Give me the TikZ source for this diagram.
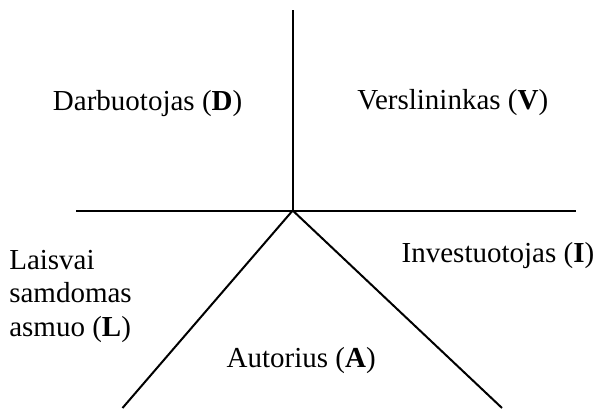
\documentclass[tikz,border=0pt]{standalone}
\usepackage{fontspec}
\setmainfont{Liberation Serif}
\begin{document}
\begin{tikzpicture}[x=0.5pt,y=-0.5pt,
  axis/.style={line width=1pt,black},
  label/.style={anchor=base west,inner sep=0pt,outer sep=0pt,
    font=\fontsize{14.5}{16.75}\selectfont,align=left}]
  \useasboundingbox (0,0) rectangle (595,408);
  % three-way split of the plane
  \coordinate (c) at (292.7,210.5);
  \coordinate (top) at (292.7,10);
  \coordinate (west) at (76,210.5);
  \coordinate (east) at (575.7,210.5);
  \coordinate (sw) at (122.5,408);
  \coordinate (se) at (502,408);
  \draw[axis] (top) -- (c);
  \draw[axis] (west) -- (east);
  \draw[axis] (sw) -- (c) -- (se);
  % quadrant labels (multi-line base sits on the last line)
  \node[label] (d) at (53,110) {Darbuotojas (\textbf{D})};
  \node[label] (v) at (357.3,109) {Verslininkas (\textbf{V})};
  \node[label] (l) at (9.3,336.3) {Laisvai\\samdomas\\asmuo (\textbf{L})};
  \node[label] (i) at (401.7,262.3) {Investuotojas (\textbf{I})};
  \node[label] (a) at (226.7,367.3) {Autorius (\textbf{A})};
\end{tikzpicture}
\end{document}
